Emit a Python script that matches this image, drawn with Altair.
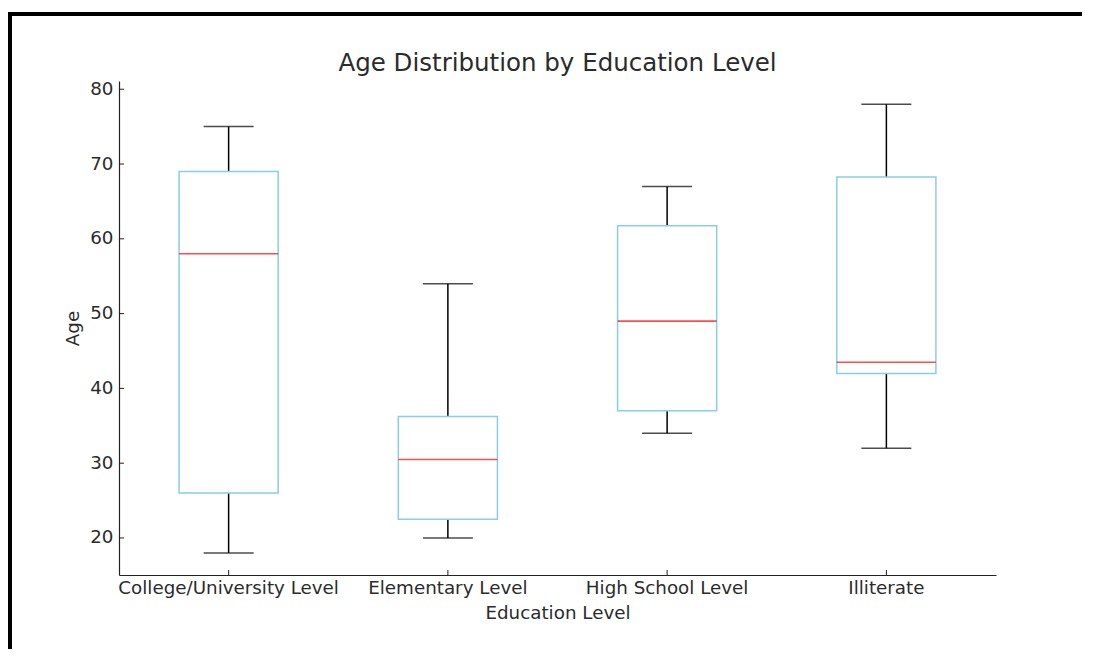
import altair as alt
import pandas as pd

categories = ["College/University Level", "Elementary Level", "High School Level", "Illiterate"]
whisker_low = [18, 20, 34, 32]
q1 = [26, 22.5, 37, 42]
median = [58, 30.5, 49, 43.5]
q3 = [69, 36.25, 61.75, 68.25]
whisker_high = [75, 54, 67, 78]
y_ticks = [20, 30, 40, 50, 60, 70, 80]
title_text = ["Age Distribution by Education Level"]

df = pd.DataFrame({
    "cat": categories,
    "low": whisker_low,
    "q1": q1,
    "med": median,
    "q3": q3,
    "high": whisker_high,
})
ticks_df = pd.DataFrame({"v": y_ticks})
title_df = pd.DataFrame({"t": title_text})

FONT = "DejaVu Sans"
TXT = "#2b2b2b"

xscale = alt.Scale(type="band", domain=categories, paddingInner=0.548, paddingOuter=0.274)
yscale = alt.Scale(domain=[15.05, 81.1], nice=False, zero=False)

x_enc = alt.X("cat:N", scale=xscale, sort=categories,
              axis=alt.Axis(title="Education Level", labelAngle=0, ticks=False,
                            labelPadding=4, titlePadding=8, labelLimit=0))
y_axis = alt.Axis(title="Age", values=y_ticks, ticks=False, grid=False,
                  labelPadding=6, titlePadding=7)

base = alt.Chart(df)

lower_whisker = base.mark_rule(color="black", strokeWidth=1.5).encode(
    x=x_enc, y=alt.Y("low:Q", scale=yscale, axis=y_axis), y2="q1:Q")
upper_whisker = base.mark_rule(color="black", strokeWidth=1.5).encode(
    x=x_enc, y=alt.Y("q3:Q", scale=yscale), y2="high:Q")
low_cap = base.mark_tick(color="black", size=50, thickness=1.5).encode(
    x=x_enc, y=alt.Y("low:Q", scale=yscale))
high_cap = base.mark_tick(color="black", size=50, thickness=1.5).encode(
    x=x_enc, y=alt.Y("high:Q", scale=yscale))
box = base.mark_bar(fill="white", fillOpacity=1, stroke="#87ceeb", strokeWidth=1.5).encode(
    x=x_enc, y=alt.Y("q1:Q", scale=yscale), y2="q3:Q")
med = base.mark_tick(color="#ff0000", size=99, thickness=1.6).encode(
    x=x_enc, y=alt.Y("med:Q", scale=yscale))

x_ticks = base.mark_rule(color="#222222", strokeWidth=1).encode(
    x=x_enc, y=alt.value(494), y2=alt.value(489))
y_tick_marks = alt.Chart(ticks_df).mark_rule(color="#222222", strokeWidth=1).encode(
    y=alt.Y("v:Q", scale=yscale), x=alt.value(0), x2=alt.value(5))

title_mark = alt.Chart(title_df).mark_text(
    font=FONT, fontSize=24.5, color=TXT, align="center", baseline="alphabetic"
).encode(text="t:N", x=alt.value(438.5), y=alt.value(-10))

frame_data = alt.Data(values=[{"a": 1}])
frame_top = alt.Chart(frame_data).mark_rule(color="black", strokeWidth=4).encode(
    x=alt.value(-111), x2=alt.value(963), y=alt.value(-67))
frame_left = alt.Chart(frame_data).mark_rule(color="black", strokeWidth=4).encode(
    x=alt.value(-109), y=alt.value(-69), y2=alt.value(568))

chart = alt.layer(
    lower_whisker, upper_whisker, low_cap, high_cap, box, med,
    x_ticks, y_tick_marks, title_mark, frame_top, frame_left
).properties(
    width=877, height=494,
    padding={"left": -2, "top": 2, "right": 0, "bottom": 0},
).configure_view(stroke=None).configure_axis(
    labelFont=FONT, titleFont=FONT, labelFontSize=18.3, titleFontSize=18.3,
    labelColor=TXT, titleColor=TXT, titleFontWeight="normal",
    domainColor="#222222", domainWidth=1.2,
)

chart.save("out.html", embed_options={"renderer": "svg", "actions": False})
